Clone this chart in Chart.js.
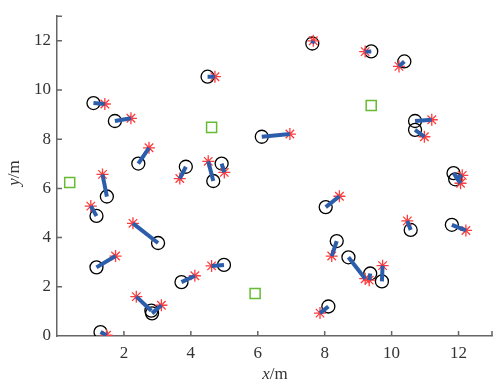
<!DOCTYPE html>
<html>
<head>
<meta charset="utf-8">
<script src="https://cdn.jsdelivr.net/npm/chart.js@4.4.0/dist/chart.umd.min.js"></script>
<style>
  html, body { margin: 0; padding: 0; background: #fff; }
  #wrap { width: 502px; height: 385px; }
</style>
</head>
<body>
<div id="wrap"><canvas id="myChart"></canvas></div>
<script>
// true positions (circles)
const trueX = [1.09, 1.73, 2.43, 3.85, 4.67, 4.92, 4.50, 1.49, 7.63, 6.12, 9.39, 10.38, 10.70, 10.70, 11.85, 11.90,
               1.18, 3.02, 1.18, 3.72, 2.82, 2.84, 1.30, 8.03, 8.36, 4.99, 8.11, 8.71, 9.36, 9.71, 10.57, 11.80];
const trueY = [9.47, 8.74, 7.01, 6.88, 6.30, 7.01, 10.54, 5.67, 11.89, 8.10, 11.57, 11.16, 8.74, 8.38, 6.62, 6.37,
               4.88, 3.78, 2.79, 2.19, 1.03, 0.92, 0.16, 5.24, 3.86, 2.89, 1.20, 3.20, 2.54, 2.22, 4.31, 4.52];
// estimated positions (stars)
const estX = [1.43, 2.21, 2.75, 3.67, 4.52, 5.00, 4.72, 1.36, 7.66, 6.96, 9.21, 10.22, 11.20, 10.98, 12.06, 12.11,
              1.01, 2.27, 1.75, 4.12, 2.37, 3.12, 1.48, 8.44, 8.21, 4.62, 7.86, 9.21, 9.33, 9.73, 10.47, 12.22];
const estY = [9.43, 8.85, 7.65, 6.40, 7.10, 6.65, 10.54, 6.57, 12.00, 8.21, 11.56, 10.96, 8.79, 8.10, 6.21, 6.53,
              5.28, 4.58, 3.25, 2.45, 1.60, 1.25, 0.03, 5.68, 3.25, 2.85, 0.93, 2.33, 2.27, 2.86, 4.68, 4.29];
// anchor nodes (squares)
const anchorX = [0.38, 4.62, 9.39, 5.92];
const anchorY = [6.24, 8.48, 9.37, 1.73];

const xTicks = [0, 2, 4, 6, 8, 10, 12, 13];
const yTicks = [0, 2, 4, 6, 8, 10, 12, 13];

const circles = trueX.map((x, i) => ({x: x, y: trueY[i]}));
const stars = estX.map((x, i) => ({x: x, y: estY[i]}));
const anchors = anchorX.map((x, i) => ({x: x, y: anchorY[i]}));

// one small line dataset per circle/star pair
const segSets = trueX.map((x, i) => ({
  data: [{x: x, y: trueY[i]}, {x: estX[i], y: estY[i]}],
  showLine: true,
  borderColor: '#2c5dab',
  borderWidth: 4,
  pointRadius: 0
}));

const font = { family: '"Liberation Serif", "DejaVu Serif", serif', size: 17 };
const axisColor = '#666666';

// inward ticks and the x/m, y/m titles
const axisPlugin = {
  id: 'axisExtras',
  afterDraw(chart) {
    const c = chart.ctx, xs = chart.scales.x, ys = chart.scales.y, a = chart.chartArea;
    c.save();
    c.strokeStyle = axisColor;
    c.lineWidth = 1.5;
    c.beginPath();
    xTicks.forEach(v => {
      if (v === 0) return;
      const px = xs.getPixelForValue(v);
      c.moveTo(px, a.bottom); c.lineTo(px, a.bottom - 5);
    });
    yTicks.forEach(v => {
      if (v === 0) return;
      const py = ys.getPixelForValue(v);
      c.moveTo(a.left, py); c.lineTo(a.left + 5, py);
    });
    c.stroke();

    c.fillStyle = '#333';
    c.textBaseline = 'middle';
    const it = 'italic 17px "Liberation Serif"', rm = '17px "Liberation Serif"';
    c.font = it; const w1 = c.measureText('x').width;
    c.font = rm; const w2 = c.measureText('/m').width;
    let sx = 275 - (w1 + w2) / 2;
    c.textAlign = 'left';
    c.font = it; c.fillText('x', sx, 375);
    c.font = rm; c.fillText('/m', sx + w1, 375);
    // y title
    c.translate(15, 173);
    c.rotate(-Math.PI / 2);
    c.font = it; const h1 = c.measureText('y').width;
    sx = -(h1 + w2) / 2;
    c.fillText('y', sx, 0);
    c.font = rm; c.fillText('/m', sx + h1, 0);
    c.restore();
  }
};

new Chart(document.getElementById('myChart').getContext('2d'), {
  type: 'scatter',
  data: {
    datasets: segSets.concat([
      {
        data: stars,
        pointStyle: 'star',
        pointRadius: 6,
        borderColor: '#ff3b3b',
        borderWidth: 1.3
      },
      {
        data: circles,
        pointStyle: 'circle',
        pointRadius: 6.5,
        borderColor: '#000000',
        backgroundColor: 'rgba(0,0,0,0)',
        borderWidth: 1.3
      },
      {
        data: anchors,
        pointStyle: 'rect',
        pointRadius: 7.1,
        borderColor: '#66bb33',
        backgroundColor: 'rgba(0,0,0,0)',
        borderWidth: 1.5
      }
    ])
  },
  options: {
    responsive: true,
    maintainAspectRatio: false,
    animation: false,
    layout: { padding: { left: 0, right: 10, top: 9, bottom: 0 } },
    plugins: { legend: { display: false }, tooltip: { enabled: false } },
    scales: {
      x: {
        min: 0, max: 13,
        afterBuildTicks: s => { s.ticks = xTicks.map(v => ({ value: v })); },
        afterFit: s => { s.height = 49; },
        grid: { display: true, drawOnChartArea: false, drawTicks: false },
        border: { color: axisColor, width: 1.5 },
        ticks: {
          font: font, color: '#333', padding: 7, maxRotation: 0,
          callback: v => (v === 0 || v === 13) ? '' : String(v)
        }
      },
      y: {
        min: 0, max: 13,
        afterBuildTicks: s => { s.ticks = yTicks.map(v => ({ value: v })); },
        afterFit: s => { s.width = 57; },
        grid: { display: true, drawOnChartArea: false, drawTicks: false },
        border: { color: axisColor, width: 1.5 },
        ticks: {
          font: font, color: '#333', padding: 6,
          callback: v => v === 13 ? '' : String(v)
        }
      }
    }
  },
  plugins: [axisPlugin]
});
</script>
</body>
</html>
